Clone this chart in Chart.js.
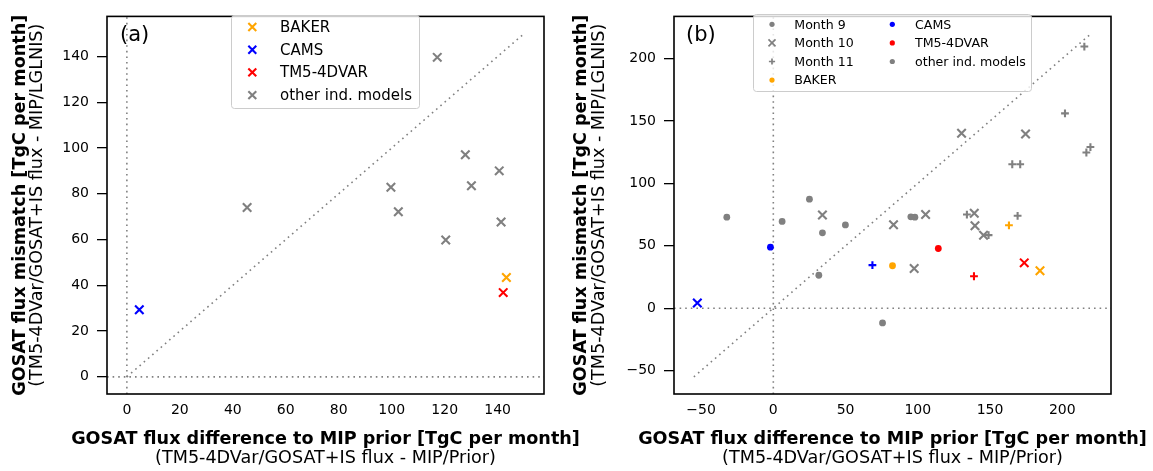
<!DOCTYPE html>
<html><head><meta charset="utf-8">
<script src="https://cdn.jsdelivr.net/npm/chart.js@4.4.1/dist/chart.umd.min.js"></script>
<style>
html,body{margin:0;padding:0;background:#fff;width:1153px;height:471px;overflow:hidden}
canvas{position:absolute;top:0}
</style></head>
<body>
<canvas id="ca" width="620" height="471" style="left:0px"></canvas>
<canvas id="cb" width="593" height="471" style="left:560px"></canvas>
<script>
// ---------- Panel (a) data ----------
const aBakerX = [143.3], aBakerY = [43.4];
const aCamsX  = [4.7],   aCamsY  = [29.3];
const aTm5X   = [142.1], aTm5Y   = [36.8];
const aOtherX = [117.2, 127.8, 140.6, 99.7, 130.1, 45.4, 102.5, 141.3, 120.4];
const aOtherY = [139.6, 97.0, 90.0, 82.8, 83.5, 74.0, 72.1, 67.7, 59.8];
const aTicksX = [0, 20, 40, 60, 80, 100, 120, 140];
const aTicksY = [0, 20, 40, 60, 80, 100, 120, 140];
const aRange  = [-7.5, 157.5];
const aOneToOne = [0, 150];
const aLegendLabels = ['BAKER', 'CAMS', 'TM5-4DVAR', 'other ind. models'];

// ---------- Panel (b) data (months 9, 10, 11) ----------
const bOther9X  = [-32.2, 6.1, 25.0, 34.0, 31.5, 49.9, 95.2, 98.0, 75.6];
const bOther9Y  = [72.9, 69.5, 87.3, 60.4, 26.4, 66.7, 73.2, 72.9, -11.8];
const bOther10X = [130.3, 174.6, 34.0, 83.2, 105.4, 139.1, 139.6, 145.5, 97.5];
const bOther10Y = [140.1, 139.6, 74.7, 66.9, 75.0, 76.1, 66.1, 58.5, 31.8];
const bOther11X = [215.3, 201.9, 219.5, 216.7, 165.4, 170.9, 134.0, 169.1, 149.0];
const bOther11Y = [209.6, 156.1, 129.1, 124.7, 115.3, 115.3, 75.0, 74.0, 58.5];
const bBakerX = [82.5, 184.6, 163.1], bBakerY = [34.0, 30.0, 66.4];
const bCamsX  = [-2.0, -52.6, 68.6],  bCamsY  = [48.9, 4.2, 34.5];
const bTm5X   = [114.2, 173.7, 138.9], bTm5Y  = [47.8, 36.3, 25.6];
const bTicksX = [-50, 0, 50, 100, 150, 200];
const bTicksY = [-50, 0, 50, 100, 150, 200];
const bRange  = [-68.75, 233.75];
const bOneToOne = [-55, 220];
const bLegendLabels = ['Month 9', 'Month 10', 'Month 11', 'BAKER', 'CAMS', 'TM5-4DVAR', 'other ind. models'];

// ---------- Text ----------
const xTitleBold = 'GOSAT flux difference to MIP prior [TgC per month]';
const xTitleSub  = '(TM5-4DVar/GOSAT+IS flux - MIP/Prior)';
const yTitleBold = 'GOSAT flux mismatch [TgC per month]';
const yTitleSub  = '(TM5-4DVar/GOSAT+IS flux - MIP/LGLNIS)';

// ---------- Styling ----------
const FONT = '"DejaVu Sans", sans-serif';
const GRAY = '#808080', ORANGE = '#FFA500', BLUE = '#0000FF', RED = '#FF0000';
const monthStyle = ['circle', 'crossRot', 'cross'];
const monthRadius = [3.4, 6.0, 3.9];

function pts(xs, ys) { return xs.map((x, i) => ({x: x, y: ys[i]})); }
function fmt(v) { return v < 0 ? '\u2212' + Math.abs(v) : String(v); }

function scatterDs(label, xs, ys, color, styles, radii) {
  return {
    label: label, data: pts(xs, ys), showLine: false,
    pointStyle: styles, pointRadius: radii, pointHoverRadius: radii,
    backgroundColor: color, borderColor: color,
    pointBorderWidth: (Array.isArray(styles) ? styles : [styles]).map(s => s === 'circle' ? 0 : 2.1),
    order: 1
  };
}
function refLine(xs, ys) {
  return {
    label: 'ref', data: pts(xs, ys), showLine: true, pointRadius: 0, pointHoverRadius: 0,
    borderColor: GRAY, backgroundColor: GRAY, borderWidth: 1.6, borderDash: [1.6, 4],
    fill: false, tension: 0, order: 5
  };
}
function scales(range, xt, yt, yWidth) {
  const tickFont = {family: FONT, size: 14};
  return {
    x: {
      type: 'linear', min: range[0], max: range[1],
      afterBuildTicks: s => { s.ticks = xt.map(v => ({value: v})); },
      afterFit: s => { s.height = 77; },
      grid: {display: false, drawTicks: false}, border: {display: false},
      ticks: {font: tickFont, color: '#000', padding: 8, maxRotation: 0, autoSkip: false, callback: v => fmt(v)}
    },
    y: {
      type: 'linear', min: range[0], max: range[1],
      afterBuildTicks: s => { s.ticks = yt.map(v => ({value: v})); },
      afterFit: s => { s.width = yWidth; },
      grid: {display: true, drawOnChartArea: false, drawTicks: true, tickLength: 10, color: '#000', lineWidth: 1.3},
      border: {display: false},
      ticks: {font: tickFont, color: '#000', padding: 8, autoSkip: false, callback: v => fmt(v)}
    }
  };
}

function marker(ctx, style, x, y, r, color, lw) {
  ctx.save();
  ctx.fillStyle = color; ctx.strokeStyle = color; ctx.lineWidth = lw;
  ctx.beginPath();
  if (style === 'circle') {
    ctx.arc(x, y, r, 0, Math.PI * 2); ctx.fill();
  } else {
    const h = style === 'crossRot' ? r * Math.SQRT1_2 : r;
    if (style === 'crossRot') {
      ctx.moveTo(x - h, y - h); ctx.lineTo(x + h, y + h);
      ctx.moveTo(x + h, y - h); ctx.lineTo(x - h, y + h);
    } else {
      ctx.moveTo(x - h, y); ctx.lineTo(x + h, y);
      ctx.moveTo(x, y - h); ctx.lineTo(x, y + h);
    }
    ctx.stroke();
  }
  ctx.restore();
}
function legendBox(ctx, x0, y0, x1, y1) {
  ctx.save();
  ctx.beginPath();
  ctx.roundRect(x0 + 0.5, y0 + 0.5, x1 - x0, y1 - y0, 3);
  ctx.fillStyle = 'rgba(255,255,255,0.8)'; ctx.fill();
  ctx.strokeStyle = '#cccccc'; ctx.lineWidth = 1; ctx.stroke();
  ctx.restore();
}

function decoPlugin(cfg) {
  return {
    id: 'deco',
    afterDraw(chart) {
      const ctx = chart.ctx, a = chart.chartArea;
      ctx.save();
      ctx.strokeStyle = '#000'; ctx.lineWidth = 1.6;
      ctx.strokeRect(a.left, a.top, a.right - a.left, a.bottom - a.top);
      ctx.fillStyle = '#000';
      ctx.font = '21px ' + FONT; ctx.textAlign = 'left'; ctx.textBaseline = 'middle';
      ctx.fillText(cfg.panel, a.left + cfg.panelDx, a.top + 19);
      const cx = (a.left + a.right) / 2, cy = (a.top + a.bottom) / 2;
      ctx.textAlign = 'center'; ctx.textBaseline = 'alphabetic';
      ctx.font = 'bold 17.6px ' + FONT; ctx.fillText(xTitleBold, cx, 444);
      ctx.font = '17.6px ' + FONT; ctx.fillText(xTitleSub, cx, 463);
      ctx.save(); ctx.translate(cfg.yBoldX, cy); ctx.rotate(-Math.PI / 2);
      ctx.font = 'bold 17.6px ' + FONT; ctx.fillText(yTitleBold, 0, 0); ctx.restore();
      ctx.save(); ctx.translate(cfg.ySubX, cy); ctx.rotate(-Math.PI / 2);
      ctx.font = '17.6px ' + FONT; ctx.fillText(yTitleSub, 0, 0); ctx.restore();
      cfg.legend(ctx);
      ctx.restore();
    }
  };
}

const common = {
  responsive: false, animation: false, devicePixelRatio: 1, events: [],
  plugins: {legend: {display: false}, tooltip: {enabled: false}}
};

// ---------- Chart (a) ----------
new Chart(document.getElementById('ca'), {
  type: 'scatter',
  data: {datasets: [
    scatterDs(aLegendLabels[0], aBakerX, aBakerY, ORANGE, 'crossRot', 6.0),
    scatterDs(aLegendLabels[1], aCamsX, aCamsY, BLUE, 'crossRot', 6.0),
    scatterDs(aLegendLabels[2], aTm5X, aTm5Y, RED, 'crossRot', 6.0),
    scatterDs(aLegendLabels[3], aOtherX, aOtherY, GRAY, 'crossRot', 6.0),
    refLine([0, 0], aRange),
    refLine(aRange, [0, 0]),
    refLine(aOneToOne, aOneToOne)
  ]},
  options: Object.assign({}, common, {
    layout: {padding: {left: 0, top: 8, right: 76, bottom: 0}},
    scales: scales(aRange, aTicksX, aTicksY, 107)
  }),
  plugins: [decoPlugin({
    panel: '(a)', panelDx: 13, yBoldX: 24.7, ySubX: 42.4,
    legend(ctx) {
      legendBox(ctx, 231, 15, 419, 108);
      const cols = [ORANGE, BLUE, RED, GRAY];
      ctx.font = '15px ' + FONT; ctx.textAlign = 'left'; ctx.textBaseline = 'middle'; ctx.fillStyle = '#000';
      aLegendLabels.forEach((lab, i) => {
        const y = 27 + i * 22.7;
        marker(ctx, 'crossRot', 252.3, y, 5.6, cols[i], 2.1);
        ctx.fillStyle = '#000';
        ctx.fillText(lab, 280, y + 1);
      });
    }
  })]
});

// ---------- Chart (b) ----------
new Chart(document.getElementById('cb'), {
  type: 'scatter',
  data: {datasets: [
    scatterDs('BAKER', bBakerX, bBakerY, ORANGE, monthStyle, monthRadius),
    scatterDs('CAMS', bCamsX, bCamsY, BLUE, monthStyle, monthRadius),
    scatterDs('TM5-4DVAR', bTm5X, bTm5Y, RED, monthStyle, monthRadius),
    scatterDs('other 9', bOther9X, bOther9Y, GRAY, 'circle', monthRadius[0]),
    scatterDs('other 10', bOther10X, bOther10Y, GRAY, 'crossRot', monthRadius[1]),
    scatterDs('other 11', bOther11X, bOther11Y, GRAY, 'cross', monthRadius[2]),
    refLine([0, 0], bRange),
    refLine(bRange, [0, 0]),
    refLine(bOneToOne, bOneToOne)
  ]},
  options: Object.assign({}, common, {
    layout: {padding: {left: 0, top: 8, right: 42, bottom: 0}},
    scales: scales(bRange, bTicksX, bTicksY, 114)
  }),
  plugins: [decoPlugin({
    panel: '(b)', panelDx: 12, yBoldX: 26, ySubX: 44.4,
    legend(ctx) {
      legendBox(ctx, 193, 14, 471, 91);
      ctx.font = '12.6px ' + FONT; ctx.textAlign = 'left'; ctx.textBaseline = 'middle';
      const entries = [
        ['circle', GRAY, 2.6, 0], ['crossRot', GRAY, 5.0, 1.7], ['cross', GRAY, 3.1, 1.7], ['circle', ORANGE, 2.6, 0],
        ['circle', BLUE, 2.6, 0], ['circle', RED, 2.6, 0], ['circle', GRAY, 2.6, 0]
      ];
      bLegendLabels.forEach((lab, i) => {
        const col = i < 4 ? 0 : 1, row = i < 4 ? i : i - 4;
        const y = 24.3 + row * 18.6;
        const mx = col === 0 ? 212 : 332.3, tx = col === 0 ? 234.3 : 355;
        const e = entries[i];
        marker(ctx, e[0], mx, y, e[2], e[1], e[3]);
        ctx.fillStyle = '#000';
        ctx.fillText(lab, tx, y + 1);
      });
    }
  })]
});
</script>
</body></html>
